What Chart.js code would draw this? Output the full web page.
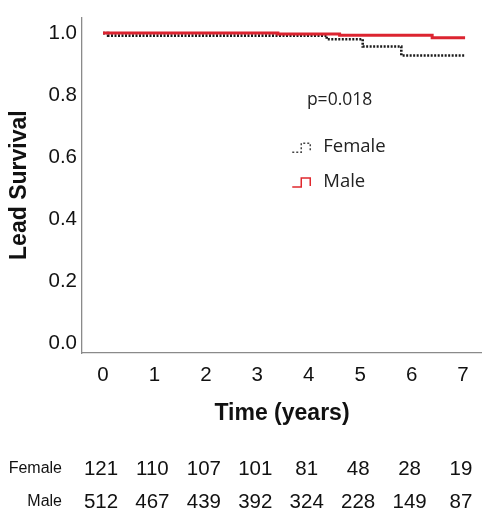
<!DOCTYPE html>
<html>
<head>
<meta charset="utf-8">
<script src="https://cdn.jsdelivr.net/npm/chart.js@4.4.1/dist/chart.umd.min.js"></script>
<style>
  body { margin: 0; background: #fff; }
  #wrap { width: 482px; height: 515px; }
</style>
</head>
<body>
<div id="wrap"><canvas id="km" width="482" height="515"></canvas></div>
<script>
// Kaplan-Meier steps
const maleTimes = [0, 3.4, 4.6, 6.4, 7.04];
const maleSurv = [1.0, 0.997, 0.993, 0.985, 0.985];
const femaleTimes = [0, 0.1, 4.35, 5.05, 5.8, 7.04];
const femaleSurv = [1.0, 0.992, 0.98, 0.957, 0.928, 0.928];

// x and y ticks
const xTicks = [0, 1, 2, 3, 4, 5, 6, 7];
const yTicks = [0, 0.2, 0.4, 0.6, 0.8, 1.0];

// number at risk
const riskTimes = [0, 1, 2, 3, 4, 5, 6, 7];
const femaleRisk = [121, 110, 107, 101, 81, 48, 28, 19];
const maleRisk = [512, 467, 439, 392, 324, 228, 149, 87];

const pValue = "p=0.018";

const toPoints = (ts, vs) => ts.map((t, i) => ({ x: t, y: vs[i] }));

// draws p-value, the step legend and the at-risk table
const extras = {
    id: "extras",
    afterDraw(chart) {
        const ctx = chart.ctx;
        const xs = chart.scales.x;
        const ys = chart.scales.y;
        ctx.save();

        // p value
        ctx.fillStyle = "#222";
        ctx.font = "17.5px 'Open Sans'";
        ctx.textAlign = "center";
        ctx.textBaseline = "middle";
        ctx.fillText(pValue, xs.getPixelForValue(4.6), ys.getPixelForValue(0.785));

        // legend
        const lx = xs.getPixelForValue(3.68);
        const items = [
            { label: "Female", color: "#444", dash: [2, 2], y: ys.getPixelForValue(0.632) },
            { label: "Male", color: "#e0282e", dash: [], y: ys.getPixelForValue(0.52) }
        ];
        items.forEach(it => {
            ctx.beginPath();
            ctx.setLineDash(it.dash);
            ctx.strokeStyle = it.color;
            ctx.lineWidth = 1.5;
            ctx.moveTo(lx, it.y + 5);
            ctx.lineTo(lx + 9, it.y + 5);
            ctx.lineTo(lx + 9, it.y - 4);
            ctx.lineTo(lx + 18, it.y - 4);
            ctx.lineTo(lx + 18, it.y + 4);
            ctx.stroke();
            ctx.setLineDash([]);
            ctx.fillStyle = "#222";
            ctx.font = "18.5px 'Open Sans'";
            ctx.textAlign = "left";
            ctx.fillText(it.label, lx + 31, it.y);
        });

        // number at risk table
        const rows = [
            { label: "Female", values: femaleRisk, y: 469 },
            { label: "Male", values: maleRisk, y: 502 }
        ];
        rows.forEach(r => {
            ctx.fillStyle = "#111";
            ctx.font = "16px 'Liberation Sans'";
            ctx.textAlign = "right";
            ctx.fillText(r.label, 62, r.y);
            ctx.font = "20.5px 'Liberation Sans'";
            ctx.textAlign = "center";
            r.values.forEach((v, i) => {
                ctx.fillText(String(v), xs.getPixelForValue(riskTimes[i]) - 2, r.y);
            });
        });
        ctx.restore();
    }
};

new Chart(document.getElementById("km"), {
    type: "line",
    data: {
        datasets: [
            {
                label: "Male",
                data: toPoints(maleTimes, maleSurv),
                borderColor: "#dc2430",
                borderWidth: 3,
                stepped: true,
                pointRadius: 0,
                fill: false
            },
            {
                label: "Female",
                data: toPoints(femaleTimes, femaleSurv),
                borderColor: "#1a1a1a",
                borderWidth: 2.6,
                borderDash: [2, 1.5],
                stepped: true,
                pointRadius: 0,
                fill: false
            }
        ]
    },
    options: {
        responsive: false,
        animation: false,
        layout: { padding: { top: 12, right: 0, bottom: 86, left: 0 } },
        plugins: {
            legend: { display: false },
            tooltip: { enabled: false }
        },
        scales: {
            x: {
                type: "linear",
                min: -0.408,
                max: 7.369,
                afterBuildTicks: s => { s.ticks = xTicks.map(v => ({ value: v })); },
                afterFit: s => { s.height = 76; },
                grid: { display: false, drawTicks: false },
                border: { display: true, color: "#8a8a8a", width: 1.3 },
                ticks: {
                    padding: 10,
                    color: "#111",
                    font: { family: "'Liberation Sans'", size: 20.5 }
                },
                title: {
                    display: true,
                    text: "Time (years)",
                    color: "#111",
                    padding: { top: 0, bottom: 2 },
                    font: { family: "'Liberation Sans'", size: 23, weight: "bold" }
                }
            },
            y: {
                min: -0.032,
                max: 1.051,
                afterBuildTicks: s => { s.ticks = yTicks.map(v => ({ value: v })); },
                afterFit: s => { s.width = 82; },
                grid: { display: false, drawTicks: false },
                border: { display: true, color: "#8a8a8a", width: 1.3 },
                ticks: {
                    padding: 5,
                    color: "#111",
                    font: { family: "'Liberation Sans'", size: 20.5 },
                    callback: v => v.toFixed(1)
                },
                title: {
                    display: true,
                    text: "Lead Survival",
                    color: "#111",
                    padding: { top: 6, bottom: 0 },
                    font: { family: "'Liberation Sans'", size: 23, weight: "bold" }
                }
            }
        }
    },
    plugins: [extras]
});
</script>
</body>
</html>
